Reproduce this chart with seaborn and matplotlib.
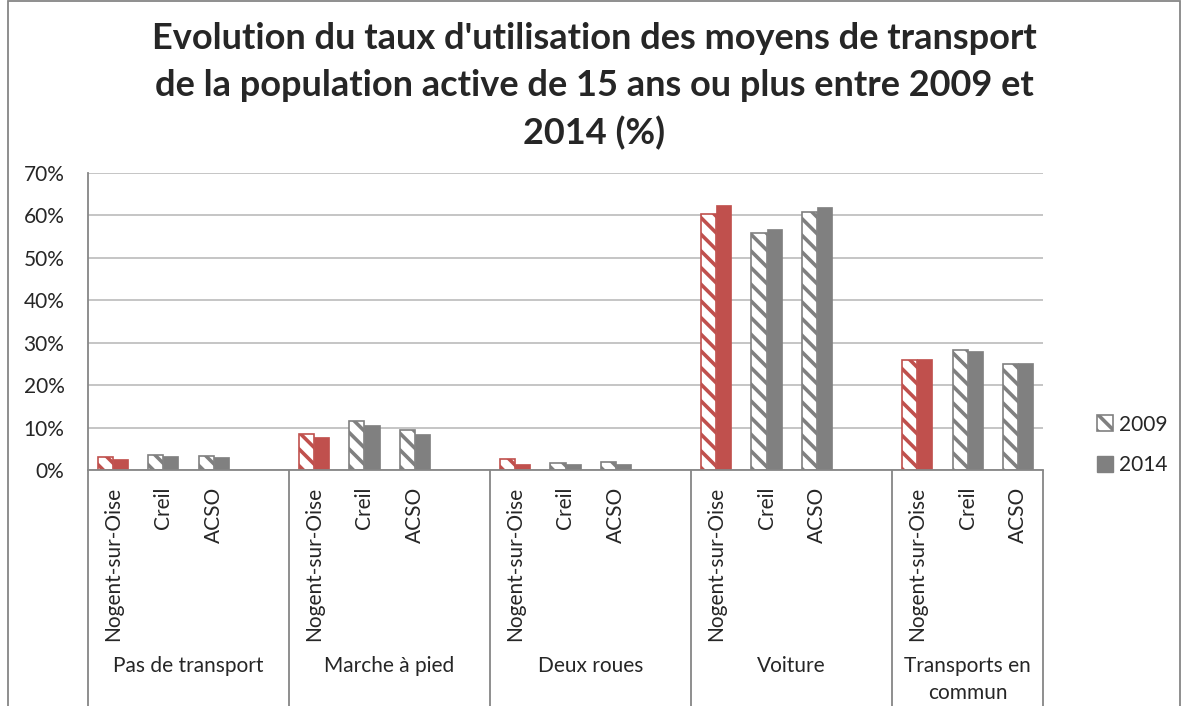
import pandas as pd
import numpy as np
import matplotlib
matplotlib.use("Agg")
import matplotlib.pyplot as plt
import seaborn as sns
from matplotlib.patches import Patch, Rectangle
from matplotlib.ticker import PercentFormatter

# données (%)
modes = ["Pas de transport", "Marche à pied", "Deux roues", "Voiture", "Transports en\ncommun"]
sites = ["Nogent-sur-Oise", "Creil", "ACSO"]
years = ["2009", "2014"]
taux_2009 = [3.1, 3.5, 3.2, 8.6, 11.5, 9.5, 2.6, 1.7, 1.9, 60.3, 55.8, 60.7, 25.9, 28.2, 25.0]
taux_2014 = [2.6, 3.4, 3.0, 7.8, 10.7, 8.4, 1.5, 1.4, 1.5, 62.5, 56.9, 62.1, 26.2, 28.1, 25.3]

title = ("Evolution du taux d'utilisation des moyens de transport\n"
         "de la population active de 15 ans ou plus entre 2009 et\n2014 (%)")

red = "#C0504D"
grey = "#808080"

rows = []
order = []
for i, mode in enumerate(modes):
    for j, site in enumerate(sites):
        key = f"{i}|{site}"
        order.append(key)
        rows.append({"slot": key, "annee": "2009", "taux": taux_2009[i * 3 + j] / 100})
        rows.append({"slot": key, "annee": "2014", "taux": taux_2014[i * 3 + j] / 100})
    if i < len(modes) - 1:
        order.append(f"{i}|")
data = pd.DataFrame(rows)

sns.set_style("white")
plt.rcParams['font.family'] = ['Lato', 'DejaVu Sans']
plt.rcParams['hatch.linewidth'] = 2.6

fig = plt.figure(figsize=(11.88, 7.06), dpi=100)
ax = fig.add_axes([88 / 1188, 1 - 470 / 706, (1043 - 88) / 1188, 297 / 706])

sns.barplot(data=data, x="slot", y="taux", hue="annee", order=order, hue_order=years,
            width=0.6, gap=0, saturation=1, errorbar=None, legend=False, ax=ax)

for bar in ax.patches:
    xc = bar.get_x() + bar.get_width() / 2
    slot = int(round(xc))
    site = order[slot].split("|")[1]
    col = red if site == "Nogent-sur-Oise" else grey
    if xc < slot:
        bar.set_facecolor("white")
        bar.set_edgecolor(col)
        bar.set_hatch("\\\\")
        bar.set_linewidth(1.2)
    else:
        bar.set_facecolor(col)
        bar.set_edgecolor(col)
        bar.set_linewidth(0.5)

ax.set_xlim(-0.5, len(order) - 0.5)
ax.set_ylim(0, 0.7)
ax.set_yticks(np.arange(0, 0.71, 0.1))
ax.yaxis.set_major_formatter(PercentFormatter(1, decimals=0))
ax.set_xticks(range(len(order)))
ax.set_xticklabels([k.split("|")[1] for k in order], rotation=90)
ax.tick_params(axis="x", length=0, pad=12, labelsize=15)
ax.tick_params(axis="y", length=0, pad=17, labelsize=15)
ax.set_xlabel("")
ax.set_ylabel("")
ax.yaxis.grid(True, color="#C0C0C0", lw=1.3)
ax.set_axisbelow(True)
for s in ["top", "right"]:
    ax.spines[s].set_visible(False)
for s in ["left", "bottom"]:
    ax.spines[s].set_color("#868686")
    ax.spines[s].set_linewidth(1.3)

# séparateurs de groupes et libellés des groupes
bounds = [-0.5, 3.5, 7.5, 11.5, 15.5, len(order) - 0.5]
ax.vlines(bounds, -0.8, 0, transform=ax.get_xaxis_transform(), color="#868686",
          lw=1.3, clip_on=False)
for i, mode in enumerate(modes):
    xm = (bounds[i] + bounds[i + 1]) / 2
    ax.text(xm, -0.625, mode, transform=ax.get_xaxis_transform(), ha="center", va="top",
            fontsize=15, linespacing=1.45)

fig.text(0.5, 1 - 22 / 706, title, ha="center", va="top", fontsize=26,
         fontweight="bold", linespacing=1.5)

handles = [Patch(facecolor="white", edgecolor=grey, hatch="\\\\", lw=1.2),
           Patch(facecolor=grey, edgecolor=grey)]
fig.legend(handles, years, loc="center left", bbox_to_anchor=(1078 / 1188, 1 - 445 / 706),
           frameon=False, fontsize=15, handlelength=0.8, handleheight=0.8,
           handletextpad=0.25, labelspacing=1.0)

fig.patches.append(Rectangle((8 / 1188, -0.01), (1180 - 8) / 1188, 1.008, transform=fig.transFigure,
                             fill=False, edgecolor="#868686", lw=1.3))

fig.savefig("out.png", dpi=100)
